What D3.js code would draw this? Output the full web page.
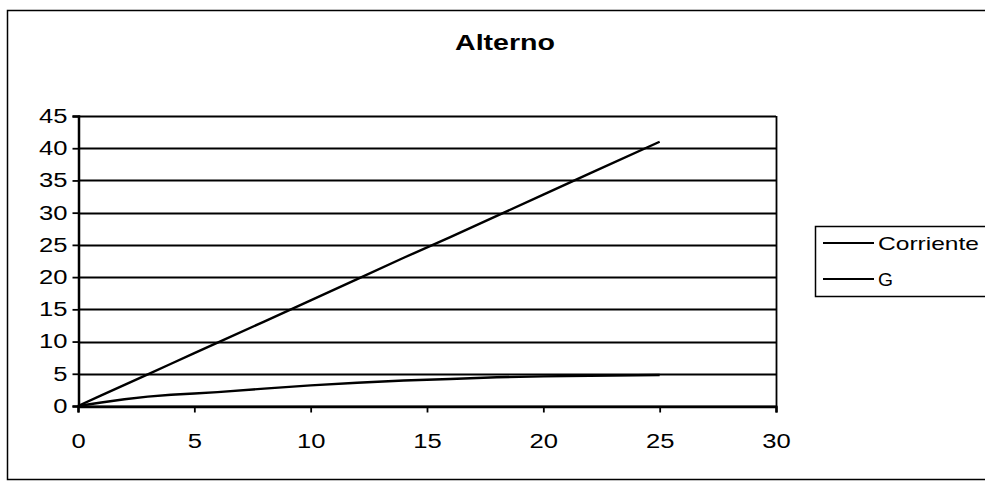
<!DOCTYPE html>
<html>
<head>
<meta charset="utf-8">
<script src="https://cdn.jsdelivr.net/npm/d3@7/dist/d3.min.js"></script>
<style>
  html, body { margin: 0; padding: 0; background: #fff; }
  svg { display: block; }
  text { font-family: "Liberation Sans", Arial, sans-serif; fill: #000; }
</style>
</head>
<body>
<svg id="chart" width="985" height="483"></svg>
<script>
const title = "Alterno";
const xValues = [0, 1, 2, 3, 4, 5, 6, 8, 10, 12, 14, 16, 18, 20, 22, 25];
const corriente = [0, 1.64, 3.28, 4.92, 6.56, 8.2, 9.84, 13.1, 16.4, 19.7, 23.0, 26.2, 29.5, 32.8, 36.1, 41.0];
const gValues = [0, 0.55, 1.05, 1.45, 1.75, 1.95, 2.15, 2.7, 3.2, 3.6, 3.95, 4.2, 4.45, 4.6, 4.7, 4.8];
const seriesNames = ["Corriente", "G"];
const xTicks = [0, 5, 10, 15, 20, 25, 30];
const yTicks = [0, 5, 10, 15, 20, 25, 30, 35, 40, 45];

const svg = d3.select("#chart");
const m = { left: 78, right: 776, top: 116, bottom: 406 };
const x = d3.scaleLinear().domain([0, 30]).range([m.left, m.right]);
const y = d3.scaleLinear().domain([0, 45]).range([m.bottom, m.top]);
const sx = 1.28; // horizontal text stretch of the scanned reference

// outer chart frame
svg.append("rect").attr("x", 7.5).attr("y", 10.5).attr("width", 1000).attr("height", 469)
  .attr("fill", "none").attr("stroke", "#000").attr("stroke-width", 1.5);

// title
svg.append("text").attr("x", 505).attr("y", 50).attr("text-anchor", "middle")
  .attr("font-size", 22).attr("font-weight", "bold")
  .attr("textLength", 100).attr("lengthAdjust", "spacingAndGlyphs").text(title);

// gridlines
svg.append("g").selectAll("line").data(yTicks).join("line")
  .attr("x1", m.left).attr("x2", m.right)
  .attr("y1", d => Math.round(y(d)) + 0.5).attr("y2", d => Math.round(y(d)) + 0.5)
  .attr("stroke", "#000").attr("stroke-width", 1.8);

// right border of plot
svg.append("line").attr("x1", m.right + 0.5).attr("x2", m.right + 0.5)
  .attr("y1", m.top).attr("y2", m.bottom).attr("stroke", "#000").attr("stroke-width", 1.8);

// axes
const xAxis = svg.append("g").attr("transform", `translate(0,${m.bottom + 0.5})`)
  .call(d3.axisBottom(x).tickValues(xTicks).tickSize(6).tickFormat(d3.format("d")));
xAxis.select(".domain").attr("stroke-width", 2.5);
xAxis.selectAll(".tick line").attr("stroke-width", 1.8);
xAxis.selectAll("text").attr("font-size", 20).attr("font-family", "Liberation Sans, Arial, sans-serif")
  .attr("dy", 0).attr("y", 41.5).attr("x", 0).attr("transform", `scale(${sx},1)`);

const yAxis = svg.append("g").attr("transform", `translate(${m.left + 0.5},0)`)
  .call(d3.axisLeft(y).tickValues(yTicks).tickSize(6).tickFormat(d3.format("d")));
yAxis.select(".domain").attr("stroke-width", 2.5);
yAxis.selectAll(".tick line").attr("stroke-width", 1.8);
yAxis.selectAll("text").attr("font-size", 20).attr("font-family", "Liberation Sans, Arial, sans-serif")
  .attr("transform", `scale(${sx},1)`).attr("x", -11 / sx);

// series
const data = [corriente, gValues];
const line = d3.line().x((d, i) => x(xValues[i])).y(d => y(d));
svg.append("g").selectAll("path").data(data).join("path")
  .attr("d", d => line(d)).attr("fill", "none").attr("stroke", "#000")
  .attr("stroke-width", 2.4).attr("stroke-linejoin", "round");

// legend
const lg = svg.append("g");
lg.append("rect").attr("x", 815.5).attr("y", 226.5).attr("width", 200).attr("height", 70)
  .attr("fill", "#fff").attr("stroke", "#000").attr("stroke-width", 1.5);
const ly = [243, 279];
const lw = [101, 15];
lg.selectAll("line.k").data(seriesNames).join("line").attr("class", "k")
  .attr("x1", 823).attr("x2", 874).attr("y1", (d, i) => ly[i]).attr("y2", (d, i) => ly[i])
  .attr("stroke", "#000").attr("stroke-width", 2.2);
lg.selectAll("text").data(seriesNames).join("text")
  .attr("x", 878).attr("y", (d, i) => ly[i] + 7).attr("font-size", 19)
  .attr("textLength", (d, i) => lw[i]).attr("lengthAdjust", "spacingAndGlyphs")
  .text(d => d);
</script>
</body>
</html>
